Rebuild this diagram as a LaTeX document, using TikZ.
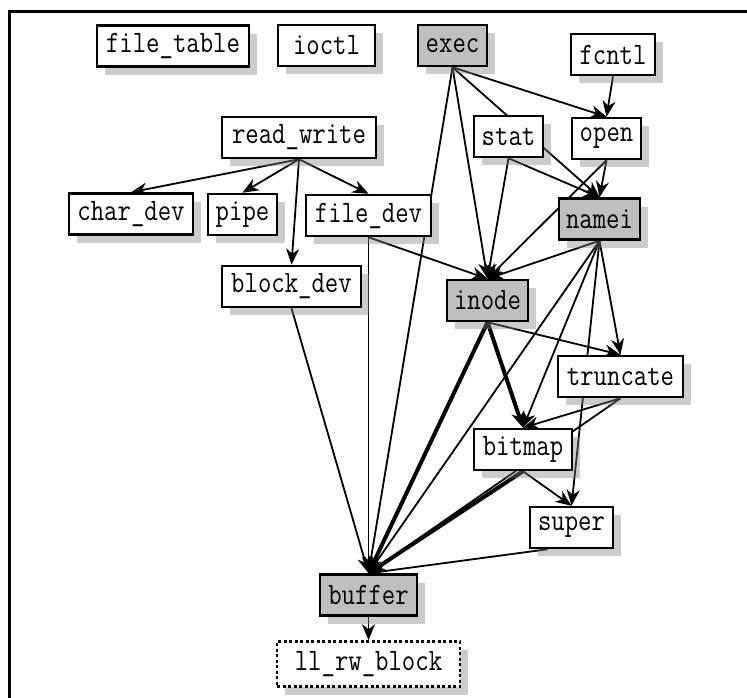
\documentclass[tikz,border=0pt]{standalone}
\usetikzlibrary{arrows.meta,shadows}
\pgfdeclarelayer{background}
\pgfsetlayers{background,main}
\tikzstyle{module}=[draw,line width=2.5pt,fill=white,font=\ttfamily\fontsize{26}{28}\selectfont,inner xsep=3pt,inner ysep=0pt,minimum height=41pt,drop shadow={shadow xshift=8pt,shadow yshift=-8pt,opacity=.4}]
\tikzstyle{core}=[module,fill=black!25]
\tikzstyle{lowlevel}=[module,dash pattern=on 3pt off 2.5pt,minimum height=45pt]
\tikzstyle{edge}=[draw,line width=1.8pt,-{Stealth[length=16pt,width=13pt,inset=5pt]}]
\tikzstyle{heavy edge}=[edge,line width=4pt]

\begin{document}
\begin{tikzpicture}[x=1pt,y=-1pt]
    \useasboundingbox (0,0) rectangle (747,697);
    \foreach \pos/\name/\txt/\w/\sty in {{(173,46)/filetable/file\_table/152/module},
        {(326.5,45.5)/ioctl/ioctl/97/module}, {(452.5,45.5)/exec/exec/69/core},
        {(613,54.5)/fcntl/fcntl/84/module}, {(299,137.5)/readwrite/read\_write/154/module},
        {(508.5,136.5)/stat/stat/69/module}, {(606.5,138.5)/open/open/69/module},
        {(131,214)/chardev/char\_dev/124/module}, {(242.5,214.5)/pipe/pipe/69/module},
        {(368.5,215.5)/filedev/file\_dev/125/module}, {(599.5,219)/namei/namei/81/core},
        {(291.5,286.5)/blockdev/block\_dev/139/module}, {(487.5,300.5)/inode/inode/81/core},
        {(620.5,376.5)/truncate/truncate/125/module}, {(523,449.5)/bitmap/bitmap/98/module},
        {(571.5,527.5)/super/super/83/module}, {(368.5,595)/buffer/buffer/97/core},
        {(368.5,664)/llrwblock/ll\_rw\_block/183/lowlevel}}
        \node[\sty,minimum width=\w] (\name) at \pos {\scalebox{1}[1.2]{\txt}};

    \begin{pgfonlayer}{background}
        \draw[line width=3pt] (9,750) |- (800,11);
        \foreach \source/\dest in {readwrite/chardev, readwrite/pipe, readwrite/filedev,
            readwrite/blockdev, exec/open, exec/namei, exec/inode, exec/buffer,
            fcntl/open, stat/inode, stat/namei, open/namei, open/inode,
            filedev/inode, filedev/buffer, blockdev/buffer,
            namei/inode, namei/truncate, namei/bitmap, namei/super, namei/buffer,
            inode/truncate, truncate/bitmap, truncate/buffer, bitmap/super,
            buffer/llrwblock}
            \path[edge] (\source.south) -- (\dest.north);
        \foreach \source/\dest in {inode/buffer, inode/bitmap, bitmap/buffer}
            \path[heavy edge] (\source.south) -- (\dest.north);
        \path[edge] ([xshift=-24pt]super.south) -- (buffer.north);
    \end{pgfonlayer}
\end{tikzpicture}
\end{document}
